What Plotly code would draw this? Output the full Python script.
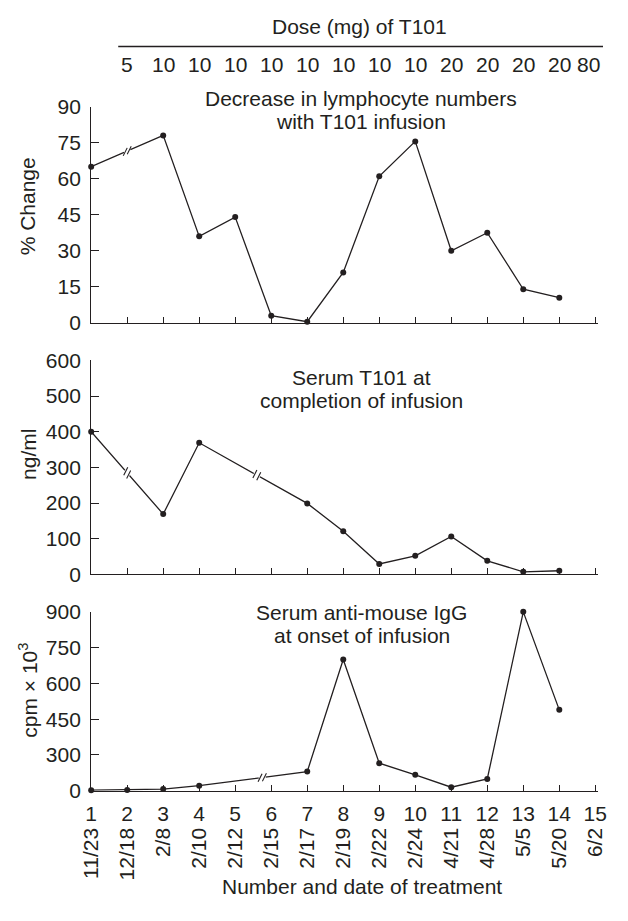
import numpy as np
import plotly.graph_objects as go

# ---------------- data ----------------
treatment_numbers = list(range(1, 16))
treatment_dates = ["11/23", "12/18", "2/8", "2/10", "2/12", "2/15", "2/17", "2/19",
                   "2/22", "2/24", "4/21", "4/28", "5/5", "5/20", "6/2"]

dose_treatments = list(range(2, 16))
dose_mg = [5, 10, 10, 10, 10, 10, 10, 10, 10, 20, 20, 20, 20, 80]

lymph_x = [1, 3, 4, 5, 6, 7, 8, 9, 10, 11, 12, 13, 14]
lymph_pct = [65, 78, 36, 44, 3, 0.5, 21, 61, 75.5, 30, 37.5, 14, 10.5]
lymph_breaks = [2.0]

serum_x = [1, 3, 4, 7, 8, 9, 10, 11, 12, 13, 14]
serum_ngml = [400, 169, 369, 199, 121, 29, 52, 106, 38, 7, 10]
serum_breaks = [2.0, 5.6]

igg_x = [1, 2, 3, 4, 7, 8, 9, 10, 11, 12, 13, 14]
igg_cpm = [4, 6, 14, 42, 160, 700, 231, 133, 29, 98, 900, 489]
igg_breaks = [5.75]

lymph_ticks = [0, 15, 30, 45, 60, 75, 90]
serum_ticks = [0, 100, 200, 300, 400, 500, 600]
igg_ticks = [0, 300, 450, 600, 750, 900]   # axis labels as printed (equally spaced)

# ---------------- layout helpers ----------------
# The page body keeps the browser's default 8px margin, so the figure is made
# 16px smaller than the window and positions are given in window pixels.
OFF = 8
W, H = 628 - 2 * OFF, 921 - 2 * OFF
INK = "#231f20"
FONT = "Liberation Sans"
FS = 21


def px(p):
    return (p - OFF) / W


def py(p):
    return 1 - (p - OFF) / H


X_LEFT, X_RIGHT = 90, 615
X_RANGE = [1, 15.08]
P1 = (105, 327)
P2 = (365.5, 585)
P3 = (623.5, 807)

igg_pos_ticks = list(range(len(igg_ticks)))
igg_plot = np.interp(igg_cpm, igg_ticks, igg_pos_ticks)

fig = go.Figure()

line_style = dict(color=INK, width=1.3)
marker_style = dict(color=INK, size=6)

fig.add_trace(go.Scatter(x=lymph_x, y=lymph_pct, mode="lines+markers", line=line_style,
                         marker=marker_style, xaxis="x", yaxis="y", cliponaxis=False))
fig.add_trace(go.Scatter(x=serum_x, y=serum_ngml, mode="lines+markers", line=line_style,
                         marker=marker_style, xaxis="x2", yaxis="y2", cliponaxis=False))
fig.add_trace(go.Scatter(x=igg_x, y=igg_plot, mode="lines+markers", line=line_style,
                         marker=marker_style, xaxis="x3", yaxis="y3", cliponaxis=False))
# invisible carrier trace so the date axis (x4) is drawn
fig.add_trace(go.Scatter(x=treatment_numbers, y=[0] * len(treatment_numbers),
                         mode="markers", marker=dict(opacity=0, size=1),
                         hoverinfo="skip", xaxis="x4", yaxis="y3"))

tickfont = dict(family=FONT, size=FS, color=INK)

common_x = dict(domain=[px(X_LEFT), px(X_RIGHT)], range=X_RANGE, tickmode="array",
                tickvals=treatment_numbers, ticks="inside", ticklen=6, tickwidth=1.2,
                tickcolor=INK, showline=True, linecolor=INK, linewidth=1.3,
                showgrid=False, zeroline=False, tickfont=tickfont,
                ticklabeloverflow="allow")
common_y = dict(ticks="inside", ticklen=8, tickwidth=1.2, tickcolor=INK, showline=True,
                linecolor=INK, linewidth=1.3, showgrid=False, zeroline=False,
                tickfont=tickfont, tickmode="array", ticklabelstandoff=5)

fig.update_layout(
    width=W, height=H, margin=dict(l=0, r=0, t=0, b=0),
    paper_bgcolor="white", plot_bgcolor="white", showlegend=False,
    font=dict(family=FONT, color=INK),
    xaxis=dict(common_x, anchor="y", showticklabels=False),
    xaxis2=dict(common_x, anchor="y2", showticklabels=False),
    xaxis3=dict(common_x, anchor="y3", showticklabels=True, ticklabelstandoff=4),
    xaxis4=dict(domain=[px(X_LEFT), px(X_RIGHT)], range=X_RANGE, overlaying="x3",
                anchor="y3", side="bottom", tickmode="array", tickvals=treatment_numbers,
                ticktext=treatment_dates, tickangle=-90, ticks="", showline=False,
                showgrid=False, zeroline=False, tickfont=tickfont, ticklabelstandoff=32,
                ticklabeloverflow="allow"),
    yaxis=dict(common_y, domain=[py(P1[1]), py(P1[0])], range=[0, 90], anchor="x",
               tickvals=lymph_ticks),
    yaxis2=dict(common_y, domain=[py(P2[1]), py(P2[0])], range=[0, 600], anchor="x2",
                tickvals=serum_ticks),
    yaxis3=dict(common_y, domain=[py(P3[1]), py(P3[0])], range=[0, igg_pos_ticks[-1]],
                anchor="x3", tickvals=igg_pos_ticks, ticktext=[str(t) for t in igg_ticks]),
)

ann = []


def add_text(text, x, y, size=FS, xref="paper", angle=0, xanchor="center", yanchor="middle"):
    ann.append(dict(text=text, x=x, y=y, xref=xref, yref="paper", showarrow=False,
                    font=dict(family=FONT, size=size, color=INK), textangle=angle,
                    xanchor=xanchor, yanchor=yanchor))


# dose header
add_text("Dose (mg) of T101", px(368), py(23))
for t, d in zip(dose_treatments[:-1], dose_mg[:-1]):
    add_text(str(d), t, py(62), xref="x")
# last dose value kept inside the page edge
add_text(str(dose_mg[-1]), px(619), py(62), xanchor="right")

# panel titles
add_text("Decrease in lymphocyte numbers", px(369), py(97))
add_text("with T101 infusion", px(369), py(120))
add_text("Serum T101 at", px(370), py(383))
add_text("completion of infusion", px(370), py(407))
add_text("Serum anti-mouse IgG", px(370), py(624))
add_text("at onset of infusion", px(370), py(648))

# y-axis titles
add_text("% Change", px(25), py(207), angle=-90)
add_text("ng/ml", px(25), py(462), angle=-90)
add_text("cpm \u00d7 10<sup>3</sup>", px(25), py(704), angle=-90)

add_text("Number and date of treatment", px(370), py(905))

shapes = [dict(type="line", xref="paper", yref="paper", x0=px(118), x1=px(620),
               y0=py(43.5), y1=py(43.5), line=dict(color=INK, width=1.5))]

# break marks on the lines
panels = [
    ("x", "y", lymph_x, lymph_pct, lymph_breaks, P1, 90.0),
    ("x2", "y2", serum_x, serum_ngml, serum_breaks, P2, 600.0),
    ("x3", "y3", igg_x, list(igg_plot), igg_breaks, P3, float(igg_pos_ticks[-1])),
]
x_ppu = (X_RIGHT - X_LEFT) / (X_RANGE[1] - X_RANGE[0])
for xr, yr, xs, ys, brks, pdom, ymax in panels:
    y_ppu = (pdom[1] - pdom[0]) / ymax
    for b in brks:
        yb = float(np.interp(b, xs, ys))
        i = int(np.searchsorted(xs, b))
        dx = (xs[i] - xs[i - 1]) * x_ppu
        dy = (ys[i] - ys[i - 1]) * y_ppu
        L = np.hypot(dx, dy)
        ux, uy = dx / L, dy / L
        g = 3.5
        shapes.append(dict(type="line", xref=xr, yref=yr, xsizemode="pixel",
                           ysizemode="pixel", xanchor=b, yanchor=yb,
                           x0=-g * ux, x1=g * ux, y0=-g * uy, y1=g * uy,
                           line=dict(color="white", width=4)))
        for s in (-2.2, 2.2):
            cx, cy = s * ux, s * uy
            shapes.append(dict(type="line", xref=xr, yref=yr, xsizemode="pixel",
                               ysizemode="pixel", xanchor=b, yanchor=yb,
                               x0=cx - 2.0, x1=cx + 2.0, y0=cy - 4.0, y1=cy + 4.0,
                               line=dict(color=INK, width=1.1)))

fig.update_layout(annotations=ann, shapes=shapes)
fig.write_html("out.html")
